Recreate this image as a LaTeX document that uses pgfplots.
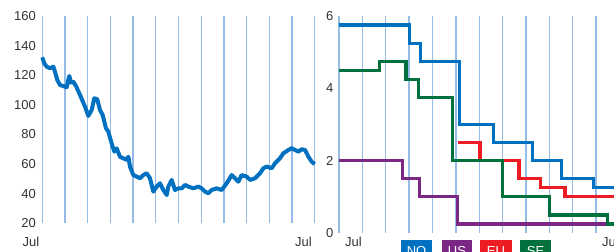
\documentclass[border=0pt]{standalone}
\usepackage{pgfplots}
\pgfplotsset{compat=1.18}
\usepackage{fontspec}
\setmainfont{Liberation Sans}
\definecolor{lineblue}{RGB}{0,112,192}
\definecolor{gridc}{RGB}{150,188,232}
\definecolor{uspurple}{RGB}{122,40,132}
\definecolor{eured}{RGB}{237,28,36}
\definecolor{segreen}{RGB}{0,112,60}
\definecolor{txt}{RGB}{50,50,50}
\begin{document}
\begin{tikzpicture}[x=1pt,y=1pt]
\useasboundingbox (0,0) rectangle (614,252);
\clip (0,0) rectangle (614,252);
\pgfplotsset{
  every axis/.append style={
    scale only axis, anchor=south west,
    axis line style={draw=none},
    tick style={draw=none},
    xmajorgrids, grid style={gridc, line width=1.3pt},
    tick label style={font=\fontsize{13}{15}\selectfont, text=txt},
    /pgf/number format/assume math mode=true,
    clip=false,
  }
}
% left panel
\begin{axis}[at={(42.3pt,28.7pt)}, width=272.4pt, height=207.3pt,
  xmin=0, xmax=12, ymin=20, ymax=160,
  xtick={0,1,...,12}, xticklabels={Jul,,,,,,,,,,,,Jul},
  xticklabel style={anchor=north east, yshift=-10.4pt, xshift=0.5pt},
  ytick={20,40,...,160},
  yticklabel style={xshift=-3pt},
]
\addplot[lineblue, line width=4pt, line join=round] coordinates {
(0,132.1)(0.088,128)(0.191,125.8)(0.338,124.7)(0.485,125.8)(0.558,122.4)(0.661,116.8)
(0.778,113.4)(0.925,112.7)(1.072,111.8)(1.146,116.8)(1.190,119.5)(1.263,115)(1.366,115.7)
(1.484,112.7)(1.660,106.7)(1.880,98.8)(2.027,92.5)(2.174,96.5)(2.291,104.4)(2.424,103.7)
(2.541,96.5)(2.659,93.2)(2.806,84.2)(2.908,81.9)(3.011,76.3)(3.099,71.8)(3.173,68.4)
(3.276,70.6)(3.422,65)(3.569,63.9)(3.716,62.8)(3.790,65)(3.863,58.3)(4.010,52.6)
(4.157,51.5)(4.304,50.4)(4.451,52.6)(4.598,53.8)(4.744,50.4)(4.891,41.4)(5.038,44.8)
(5.185,47)(5.332,42.5)(5.479,39.1)(5.552,44.8)(5.699,49.3)(5.846,42.5)(5.993,43.6)
(6.140,43.6)(6.287,45.9)(6.434,44.8)(6.654,43.6)(6.874,44.8)(7.021,43.6)(7.168,41.4)
(7.315,40.3)(7.462,42.5)(7.682,43.6)(7.903,42.5)(8.123,47)(8.343,52.6)(8.490,50.4)
(8.637,48.1)(8.784,52.6)(9.004,51.5)(9.151,49.3)(9.371,50.4)(9.592,53.8)(9.739,57.2)
(9.885,58.3)(10.106,57.2)(10.253,60.6)(10.473,64)(10.620,67.3)(10.840,69.5)(10.987,70.7)
(11.134,69.5)(11.281,68.4)(11.428,70)(11.575,69.5)(11.722,65)(11.868,61.6)(12,60)
};
\end{axis}
% right panel
\begin{axis}[at={(339pt,19pt)}, width=280.5pt, height=217pt,
  xmin=0, xmax=12, ymin=0, ymax=6,
  xtick={0,1,...,12}, xticklabels={Jul,,,,,,,,,,,Jul,},
  xticklabel style={anchor=north west, yshift=-0.6pt, xshift=2.5pt},
  ytick={0,2,4,6},
  yticklabel style={xshift=-2pt},
]
\addplot[const plot, lineblue, line width=3.2pt] coordinates {
(0,5.75)(3.0,5.25)(3.47,4.75)(5.15,3.0)(6.6,2.5)(8.27,2.0)(9.53,1.5)(10.88,1.25)(12.2,1.25)};
\addplot[const plot, uspurple, line width=3.2pt] coordinates {
(0,2)(2.7,1.5)(3.44,1.0)(5.06,0.25)(12.2,0.25)};
\addplot[const plot, eured, line width=3.2pt] coordinates {
(5.09,2.5)(6.03,2.0)(7.7,1.5)(8.63,1.25)(9.67,1.0)(12.2,1.0)};
\addplot[const plot, segreen, line width=3.2pt] coordinates {
(0,4.5)(1.73,4.75)(2.87,4.25)(3.39,3.75)(4.84,2.0)(6.99,1.0)(8.99,0.5)(11.48,0.25)(12.2,0.25)};
\end{axis}
% legend boxes
\begin{scope}[font=\fontsize{13}{15}\selectfont]
\fill[lineblue] (401,12) rectangle (432,-10);
\fill[uspurple] (442,12) rectangle (472,-10);
\fill[eured] (480,12) rectangle (512,-10);
\fill[segreen] (520,12) rectangle (551,-10);
\node[text=white, inner sep=0pt, anchor=north] at (416.5,5.5) {NO};
\node[text=white, inner sep=0pt, anchor=north] at (457,5.5) {US};
\node[text=white, inner sep=0pt, anchor=north] at (496,5.5) {EU};
\node[text=white, inner sep=0pt, anchor=north] at (535.5,5.5) {SE};
\end{scope}
\end{tikzpicture}
\end{document}
